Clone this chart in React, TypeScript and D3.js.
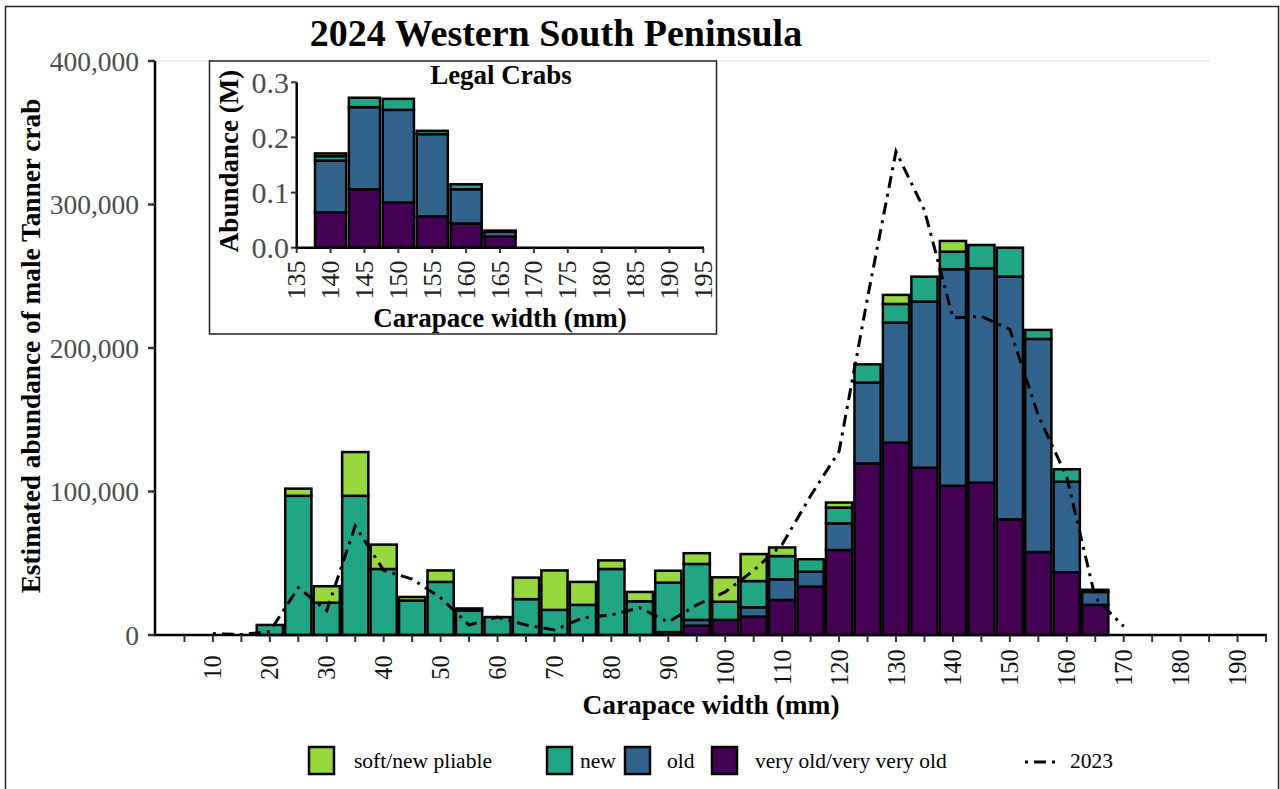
import React from "react";
import * as d3 from "d3";

// ---------- Data (main chart, thousands of crabs) ----------
const widths = [20, 25, 30, 35, 40, 45, 50, 55, 60, 65, 70, 75, 80, 85, 90, 95, 100, 105, 110, 115, 120, 125, 130, 135, 140, 145, 150, 155, 160, 165];
const softNew = [0, 5, 11.5, 30.5, 17, 2.5, 8, 1.5, 0, 15, 27.5, 16, 6, 6.5, 8.3, 7.5, 17, 18.8, 6, 0, 3.5, 0, 6.3, 0, 7.5, 0, 0, 0, 0, 0];
const newShell = [7, 97, 22.5, 97, 46, 24, 37, 17, 12.5, 25, 17.5, 21, 46, 23.5, 34.5, 39, 12.7, 18.3, 16.2, 8.7, 11, 12.7, 13, 17.4, 12.2, 16.2, 20.2, 6.3, 8.7, 1.5];
const oldShell = [0, 0, 0, 0, 0, 0, 0, 0, 0, 0, 0, 0, 0, 0, 2, 4, 0, 6.5, 14.4, 10.4, 18.6, 56.3, 83.7, 115.7, 150.9, 149.4, 169.1, 148.5, 63.1, 9];
const veryOld = [0, 0, 0, 0, 0, 0, 0, 0, 0, 0, 0, 0, 0, 0, 0, 6.5, 10.5, 12.8, 24.4, 33.7, 59.2, 119.6, 134, 116.6, 104, 106.2, 80.6, 57.8, 43.7, 21];

// 2023 line (thousands)
const widths2023 = [10, 15, 20, 25, 30, 35, 40, 45, 50, 55, 60, 65, 70, 75, 80, 85, 90, 95, 100, 105, 110, 115, 120, 125, 130, 135, 140, 145, 150, 155, 160, 165, 170];
const abund2023 = [1, 0.3, 2.5, 33, 17, 76, 45, 39, 26, 7, 12.5, 7, 3.5, 12, 14, 19, 9, 21, 30, 45, 63, 97, 128, 235, 337, 296, 221, 222, 213, 153, 110, 26, 6];

// Inset (legal crabs, millions)
const legalWidths = [140, 145, 150, 155, 160, 165];
const legalSoft = [0.005, 0, 0, 0, 0, 0];
const legalNew = [0.008, 0.017, 0.02, 0.006, 0.009, 0.002];
const legalOld = [0.094, 0.149, 0.168, 0.149, 0.062, 0.009];
const legalVeryOld = [0.064, 0.106, 0.082, 0.057, 0.044, 0.02];

const mainYTicks = [0, 100000, 200000, 300000, 400000];
const mainXLabels = [10, 20, 30, 40, 50, 60, 70, 80, 90, 100, 110, 120, 130, 140, 150, 160, 170, 180, 190];
const insetYTicks = [0, 0.1, 0.2, 0.3];
const insetXTicks = [135, 140, 145, 150, 155, 160, 165, 170, 175, 180, 185, 190, 195];

const categories = ["very old/very very old", "old", "new", "soft/new pliable"];
const colors: Record<string, string> = {
  "soft/new pliable": "#97d83f",
  new: "#21a585",
  old: "#31638c",
  "very old/very very old": "#440154",
};

const FONT = "'Liberation Serif', 'Times New Roman', serif";

type Seg = { key: string; cw: number; y0: number; y1: number };

function stackSegs(ws: number[], series: number[][], scale: number): Seg[] {
  const segs: Seg[] = [];
  ws.forEach((cw, i) => {
    let acc = 0;
    series.forEach((s, k) => {
      const v = s[i] * scale;
      if (v > 0) {
        segs.push({ key: categories[k], cw, y0: acc, y1: acc + v });
        acc += v;
      }
    });
  });
  return segs;
}

export default function App() {
  // main scales
  const x = d3.scaleLinear().domain([0, 195]).range([156, 1266]);
  const y = d3.scaleLinear().domain([0, 400000]).range([635, 61]);
  const mainSegs = stackSegs(widths, [veryOld, oldShell, newShell, softNew], 1000);
  const barHalf = 2.3;

  const line = d3
    .line<number>()
    .x((_, i) => x(widths2023[i]))
    .y((d) => y(d * 1000));

  // inset scales
  const ix = d3.scaleLinear().domain([135, 195]).range([296.7, 703.3]);
  const iy = d3.scaleLinear().domain([0, 0.3]).range([247.7, 82.3]);
  const insetSegs = stackSegs(legalWidths, [legalVeryOld, legalOld, legalNew, legalSoft], 1);

  const xMinor = d3.range(5, 196, 5);
  const fmt = d3.format(",");

  return (
    <svg
      width={1280}
      height={789}
      style={{ position: "fixed", left: 0, top: 0, background: "#fff" }}
      fontFamily={FONT}
    >
      <rect x={0} y={0} width={1280} height={789} fill="#fff" />
      <rect x={5.5} y={6.5} width={1273} height={800} fill="none" stroke="#222" strokeWidth={1.5} />

      {/* faint panel top line */}
      <line x1={155} x2={1210} y1={61} y2={61} stroke="#e3e3e3" strokeWidth={1} />

      {/* title */}
      <text x={556} y={46} textAnchor="middle" fontSize={38} fontWeight="bold" fill="#000">
        2024 Western South Peninsula
      </text>

      {/* main bars */}
      <g>
        {mainSegs.map((s, i) => (
          <rect
            key={i}
            x={x(s.cw - barHalf)}
            width={x(s.cw + barHalf) - x(s.cw - barHalf)}
            y={y(s.y1)}
            height={y(s.y0) - y(s.y1)}
            fill={colors[s.key]}
            stroke="#000"
            strokeWidth={2.5}
          />
        ))}
      </g>

      {/* 2023 line */}
      <path
        d={line(abund2023) || ""}
        fill="none"
        stroke="#000"
        strokeWidth={3}
        strokeDasharray="3,6,12,6"
      />

      {/* main y axis */}
      <line x1={155} x2={155} y1={61} y2={636} stroke="#000" strokeWidth={2.5} />
      {mainYTicks.map((t) => (
        <g key={t}>
          <line x1={148} x2={155} y1={y(t)} y2={y(t)} stroke="#333" strokeWidth={2.5} />
          <text x={139} y={y(t)} textAnchor="end" dominantBaseline="central" fontSize={27.5} fill="#4d4d4d">
            {fmt(t)}
          </text>
        </g>
      ))}
      <text
        transform={`translate(31,346) rotate(-90)`}
        textAnchor="middle"
        dominantBaseline="central"
        fontSize={27.3}
        fontWeight="bold"
      >
        Estimated abundance of male Tanner crab
      </text>

      {/* main x axis */}
      <line x1={154} x2={1267} y1={635} y2={635} stroke="#000" strokeWidth={2.5} />
      {xMinor.map((t) => (
        <line key={t} x1={x(t)} x2={x(t)} y1={635} y2={642} stroke="#333" strokeWidth={2} />
      ))}
      {mainXLabels.map((t) => (
        <text
          key={t}
          transform={`translate(${x(t)},667.5) rotate(-90)`}
          textAnchor="middle"
          dominantBaseline="central"
          fontSize={24.5}
          fill="#111"
        >
          {t}
        </text>
      ))}
      <text x={711} y={714} textAnchor="middle" fontSize={27.4} fontWeight="bold">
        Carapace width (mm)
      </text>

      {/* inset */}
      <rect x={209.5} y={61} width={507} height={273} fill="#fff" stroke="#222" strokeWidth={1.5} />
      <text x={501} y={84} textAnchor="middle" fontSize={27} fontWeight="bold">
        Legal Crabs
      </text>
      {insetSegs.map((s, i) => (
        <rect
          key={i}
          x={ix(s.cw - barHalf)}
          width={ix(s.cw + barHalf) - ix(s.cw - barHalf)}
          y={iy(s.y1)}
          height={iy(s.y0) - iy(s.y1)}
          fill={colors[s.key]}
          stroke="#000"
          strokeWidth={2.5}
        />
      ))}
      <line x1={296.7} x2={296.7} y1={82.3} y2={248.5} stroke="#000" strokeWidth={2.5} />
      {insetYTicks.map((t) => (
        <g key={t}>
          <line x1={291} x2={296.7} y1={iy(t)} y2={iy(t)} stroke="#333" strokeWidth={2} />
          <text x={289} y={iy(t)} textAnchor="end" dominantBaseline="central" fontSize={30} fill="#4d4d4d">
            {t.toFixed(1)}
          </text>
        </g>
      ))}
      <line x1={295.5} x2={704} y1={247.7} y2={247.7} stroke="#000" strokeWidth={2.5} />
      {insetXTicks.map((t) => (
        <g key={t}>
          <line x1={ix(t)} x2={ix(t)} y1={247.7} y2={253} stroke="#333" strokeWidth={2} />
          <text
            transform={`translate(${ix(t)},280) rotate(-90)`}
            textAnchor="middle"
            dominantBaseline="central"
            fontSize={26}
            fill="#222"
          >
            {t}
          </text>
        </g>
      ))}
      <text
        transform={`translate(229,161) rotate(-90)`}
        textAnchor="middle"
        dominantBaseline="central"
        fontSize={27}
        fontWeight="bold"
      >
        Abundance (M)
      </text>
      <text x={500} y={327} textAnchor="middle" fontSize={27} fontWeight="bold">
        Carapace width (mm)
      </text>

      {/* legend */}
      <g fontSize={21.5}>
        <rect x={309} y={747} width={25} height={27} fill={colors["soft/new pliable"]} stroke="#000" strokeWidth={2.5} />
        <text x={354} y={761} dominantBaseline="central">soft/new pliable</text>
        <rect x={547} y={747} width={25} height={27} fill={colors["new"]} stroke="#000" strokeWidth={2.5} />
        <text x={580} y={761} dominantBaseline="central">new</text>
        <rect x={625} y={747} width={25} height={27} fill={colors["old"]} stroke="#000" strokeWidth={2.5} />
        <text x={667} y={761} dominantBaseline="central">old</text>
        <rect x={712} y={747} width={25} height={27} fill={colors["very old/very very old"]} stroke="#000" strokeWidth={2.5} />
        <text x={755} y={761} dominantBaseline="central">very old/very very old</text>
        <line x1={1025} x2={1056} y1={762} y2={762} stroke="#000" strokeWidth={3} strokeDasharray="3,6,12,6" />
        <text x={1070} y={761} dominantBaseline="central">2023</text>
      </g>
    </svg>
  );
}
